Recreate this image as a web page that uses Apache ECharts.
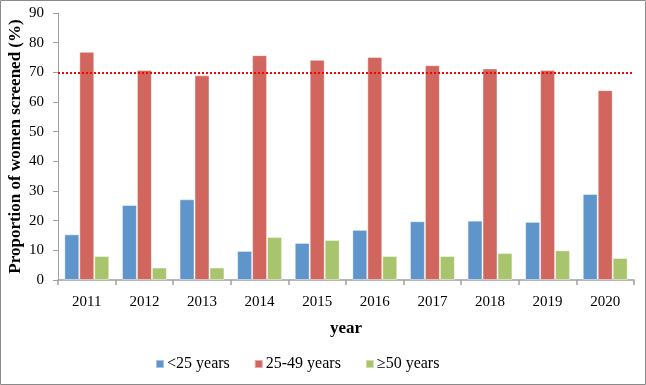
<!DOCTYPE html>
<html><head><meta charset="utf-8">
<script src="https://cdn.jsdelivr.net/npm/echarts@6/dist/echarts.min.js"></script>
<style>html,body{margin:0;padding:0;background:#fff}#c{width:646px;height:385px}</style>
</head><body><div id="c"></div>
<script>
const years = ['2011','2012','2013','2014','2015','2016','2017','2018','2019','2020'];
const under25 = [15.4,25.3,27.2,9.8,12.5,16.9,19.8,20.0,19.6,29.0];
const age25to49 = [76.9,70.8,69.0,75.8,74.2,75.2,72.4,71.3,70.8,64.0];
const over50 = [8.1,4.2,4.2,14.5,13.5,8.1,8.1,9.1,10.0,7.4];
const seriesNames = ['<25 years','25-49 years','≥50 years'];
const target = 70;
const yTicks = {min:0,max:90,interval:10};

const font = '"Liberation Serif","Times New Roman",serif';
const chart = echarts.init(document.getElementById('c'));
const barStyle = (c)=>({color:c,borderColor:'rgba(255,255,255,0.45)',borderWidth:1});
chart.setOption({
  animation:false,
  textStyle:{fontFamily:font},
  graphic:[{type:'rect',shape:{x:0.5,y:0.5,width:645,height:384},style:{fill:'none',stroke:'#8a8a8a',lineWidth:1},z:-1}],
  grid:{left:58,right:12,top:13,bottom:105,outerBoundsMode:'none',containLabel:false},
  legend:{top:351,left:150,itemWidth:8,itemHeight:8,itemGap:24,icon:'rect',
    textStyle:{fontFamily:font,fontSize:16,color:'#000',padding:[0,0,0,-2]},data:seriesNames},
  xAxis:{type:'category',data:years,
    name:'year',nameLocation:'middle',nameGap:40,nameMoveOverlap:false,
    nameTextStyle:{fontFamily:font,fontSize:17,fontWeight:'bold',color:'#000'},
    axisLine:{lineStyle:{color:'#a0a0a0',width:1.5}},
    axisTick:{show:true,length:5,lineStyle:{color:'#a0a0a0',width:1.5}},
    axisLabel:{fontFamily:font,fontSize:15,color:'#000',margin:15}},
  yAxis:{type:'value',min:yTicks.min,max:yTicks.max,interval:yTicks.interval,
    name:'Proportion of women screened (%)',nameLocation:'middle',nameGap:34,nameMoveOverlap:false,
    nameTextStyle:{fontFamily:font,fontSize:17,fontWeight:'bold',color:'#000'},
    axisLine:{show:true,lineStyle:{color:'#a0a0a0',width:1}},
    axisTick:{show:true,length:5,lineStyle:{color:'#a0a0a0'}},
    splitLine:{show:false},
    axisLabel:{fontFamily:font,fontSize:15,color:'#000',margin:14}},
  series:[
    {name:seriesNames[0],type:'bar',data:under25,barGap:'0%',barCategoryGap:'22%',itemStyle:barStyle('#5f95cb'),
      markLine:{silent:true,symbol:'none',label:{show:false},
        lineStyle:{color:'#ff0000',type:[2,2],width:2},data:[{yAxis:target}]}},
    {name:seriesNames[1],type:'bar',data:age25to49,barGap:'0%',barCategoryGap:'22%',itemStyle:barStyle('#d0665e')},
    {name:seriesNames[2],type:'bar',data:over50,barGap:'0%',barCategoryGap:'22%',itemStyle:barStyle('#a8c46c')}
  ]
});
</script></body></html>
